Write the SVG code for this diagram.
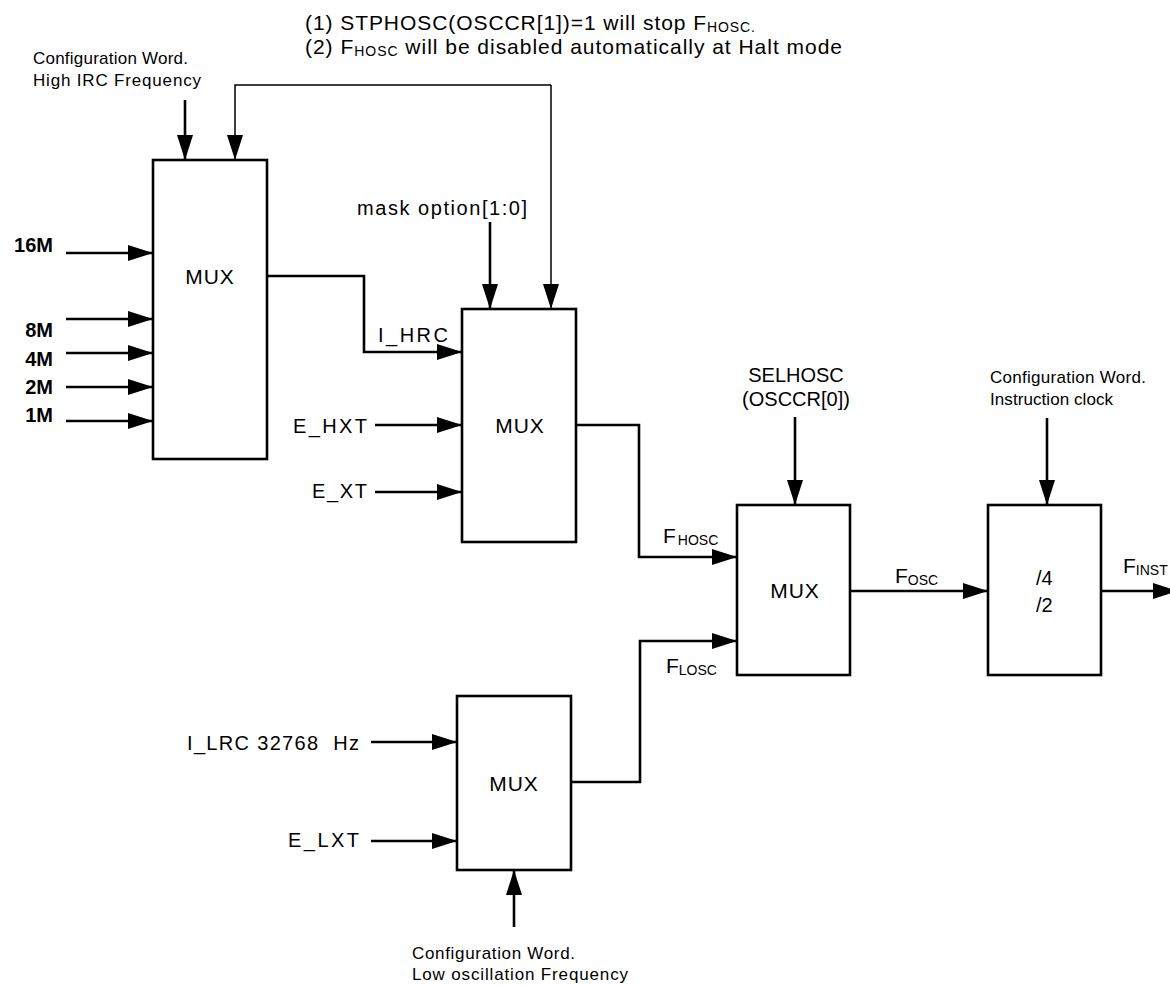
<svg xmlns="http://www.w3.org/2000/svg" width="1170" height="985" viewBox="0 0 1170 985">
<defs>
<style>
.bg{fill:#fff}
.box{fill:#fff;stroke:#000;stroke-width:2.6}
.w{fill:none;stroke:#000;stroke-width:2.6}
.thin{fill:none;stroke:#000;stroke-width:1.5}
text{font-family:"Liberation Sans",Arial,sans-serif;fill:#000}
.big{font-size:21px}
.mid{font-size:20px}
.mux{font-size:21px;letter-spacing:1px;text-anchor:middle}
.sm{font-size:17px}
.bold{font-size:20px;font-weight:bold;text-anchor:end}
.sub{font-size:14px}
</style>
<marker id="ah" markerUnits="userSpaceOnUse" viewBox="0 0 25 16" markerWidth="25" markerHeight="16" refX="25" refY="8" orient="auto">
<path d="M0,0 L25,8 L0,16 z" fill="#000"/>
</marker>
</defs>
<rect class="bg" x="0" y="0" width="1170" height="985"/>

<g id="notes">
<text class="big" x="305" y="30" textLength="450" lengthAdjust="spacing">(1) STPHOSC(OSCCR[1])=1 will stop F<tspan class="sub" dy="2">HOSC.</tspan></text>
<text class="big" x="305" y="54" textLength="537" lengthAdjust="spacing">(2) F<tspan class="sub" dy="2">HOSC</tspan><tspan dy="-2"> will be disabled automatically at Halt mode</tspan></text>
</g>

<g id="cfg-high">
<text class="sm" x="33" y="64" textLength="155" lengthAdjust="spacing">Configuration Word.</text>
<text class="sm" x="33" y="86" textLength="168" lengthAdjust="spacing">High IRC Frequency</text>
</g>

<g id="inputs-irc">
<text class="bold" x="53" y="252">16M</text>
<text class="bold" x="53" y="337">8M</text>
<text class="bold" x="53" y="366">4M</text>
<text class="bold" x="53" y="394">2M</text>
<text class="bold" x="53" y="422">1M</text>
</g>

<g id="mux-hirc">
<rect class="box" x="153" y="160" width="114" height="299"/>
<text class="mux" x="210" y="284">MUX</text>
</g>

<g id="mask-label">
<text class="mid" x="357" y="215" textLength="170" lengthAdjust="spacing">mask option[1:0]</text>
</g>

<g id="mux-high">
<rect class="box" x="462" y="309" width="114" height="233"/>
<text class="mux" x="520" y="433">MUX</text>
</g>

<g id="labels-high">
<text class="mid" x="378" y="342" textLength="70" lengthAdjust="spacing">I_HRC</text>
<text class="mid" x="293" y="433" textLength="74" lengthAdjust="spacing">E_HXT</text>
<text class="mid" x="312" y="498" textLength="55" lengthAdjust="spacing">E_XT</text>
</g>

<g id="sel-label">
<text class="mid" x="796" y="382" text-anchor="middle">SELHOSC</text>
<text class="mid" x="796" y="406" text-anchor="middle">(OSCCR[0])</text>
</g>

<g id="mux-sel">
<rect class="box" x="737" y="505" width="113" height="170"/>
<text class="mux" x="795" y="598">MUX</text>
<text class="big" x="663" y="543">F<tspan class="sub" dx="2" dy="2">HOSC</tspan></text>
<text class="big" x="666" y="673">F<tspan class="sub" dy="2">LOSC</tspan></text>
</g>

<g id="cfg-inst">
<text class="sm" x="990" y="383" textLength="156" lengthAdjust="spacing">Configuration Word.</text>
<text class="sm" x="990" y="405" textLength="123" lengthAdjust="spacing">Instruction clock</text>
</g>

<g id="divider">
<rect class="box" x="988" y="505" width="113" height="170"/>
<text class="mid" x="1036" y="585">/4</text>
<text class="mid" x="1036" y="612">/2</text>
<text class="big" x="895" y="583">F<tspan class="sub" dy="2">OSC</tspan></text>
<text class="big" x="1123" y="573">F<tspan class="sub" dy="2">INST</tspan></text>
</g>

<g id="mux-low">
<rect class="box" x="457" y="696" width="114" height="174"/>
<text class="mux" x="514" y="791">MUX</text>
<text class="mid" x="187" y="750" textLength="172" lengthAdjust="spacing" xml:space="preserve">I_LRC 32768  Hz</text>
<text class="mid" x="288" y="847" textLength="71" lengthAdjust="spacing">E_LXT</text>
</g>

<g id="cfg-low">
<text class="sm" x="412" y="959" textLength="163" lengthAdjust="spacing">Configuration Word.</text>
<text class="sm" x="412" y="980" textLength="216" lengthAdjust="spacing">Low oscillation Frequency</text>
</g>

<g id="connectors">
<path class="w" d="M66,253 H153" marker-end="url(#ah)"/>
<path class="w" d="M66,319 H153" marker-end="url(#ah)"/>
<path class="w" d="M66,353 H153" marker-end="url(#ah)"/>
<path class="w" d="M66,387 H153" marker-end="url(#ah)"/>
<path class="w" d="M66,421 H153" marker-end="url(#ah)"/>
<path class="w" d="M185,100 V160" marker-end="url(#ah)"/>
<path class="thin" d="M551,85 H235 V160" marker-end="url(#ah)"/>
<path class="thin" d="M551,85 V309" marker-end="url(#ah)"/>
<path class="w" d="M490,222 V309" marker-end="url(#ah)"/>
<path class="w" d="M267,276 H364 V352 H462" marker-end="url(#ah)"/>
<path class="w" d="M375,425 H462" marker-end="url(#ah)"/>
<path class="w" d="M375,492 H462" marker-end="url(#ah)"/>
<path class="w" d="M576,425 H639 V557 H737" marker-end="url(#ah)"/>
<path class="w" d="M795,417 V505" marker-end="url(#ah)"/>
<path class="w" d="M571,782 H640 V641 H737" marker-end="url(#ah)"/>
<path class="w" d="M850,591 H988" marker-end="url(#ah)"/>
<path class="w" d="M1047,418 V505" marker-end="url(#ah)"/>
<path class="w" d="M1101,591 H1178" marker-end="url(#ah)"/>
<path class="w" d="M371,742 H457" marker-end="url(#ah)"/>
<path class="w" d="M371,841 H457" marker-end="url(#ah)"/>
<path class="w" d="M514,927 V870" marker-end="url(#ah)"/>
</g>
</svg>
